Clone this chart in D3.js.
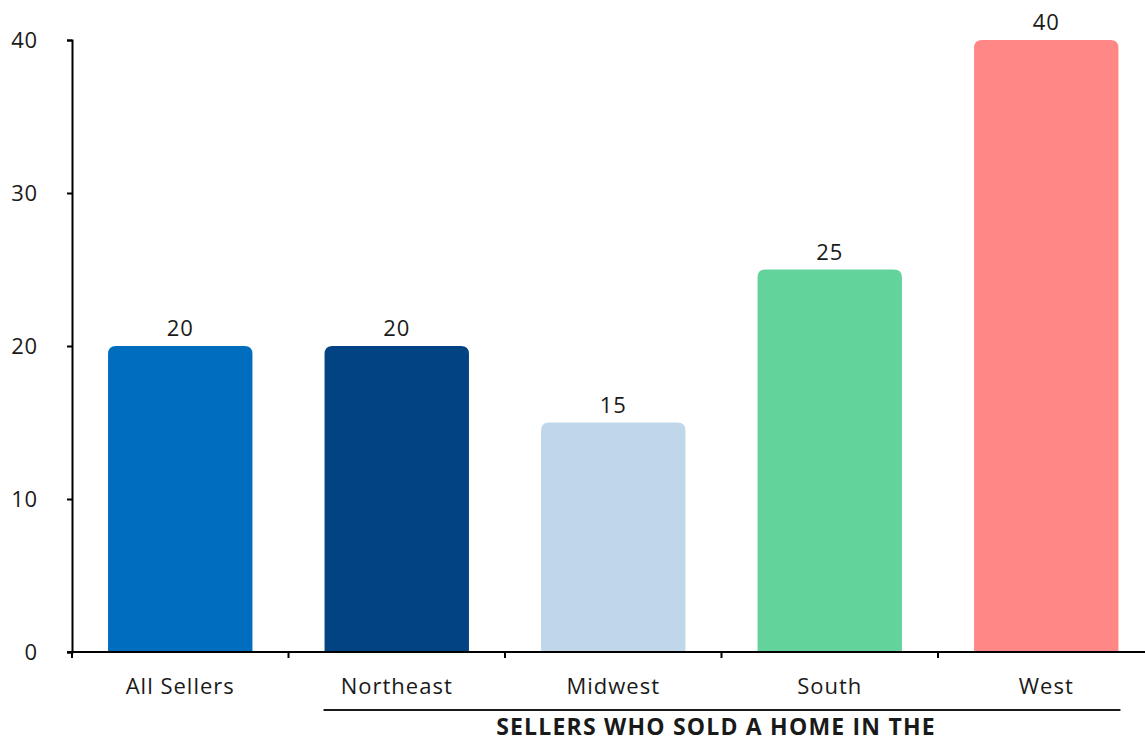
<!DOCTYPE html>
<html><head><meta charset="utf-8">
<script src="https://cdn.jsdelivr.net/npm/d3@7"></script>
<style>
body{margin:0;background:#fff;}
text{font-family:"Open Sans","Noto Sans",sans-serif;fill:#1a1a1a;}
</style></head>
<body><svg id="c" width="1145" height="742"></svg>
<script>
const categories = ["All Sellers","Northeast","Midwest","South","West"];
const values = [20,20,15,25,40];
const colors = ["#006dbf","#024483","#c0d7ea","#62d39b","#ff8886"];
const yTicks = [0,10,20,30,40];
const groupLabel = "SELLERS WHO SOLD A HOME IN THE";

const svg = d3.select("#c");
const x0 = 72, xEnd = 1154.5, y0 = 652, yTop = 40;
const x = d3.scaleBand().domain(categories).range([x0, xEnd]).paddingInner(0.333).paddingOuter(0.1665);
const y = d3.scaleLinear().domain([0,40]).range([y0, yTop]);

// bars with rounded top
const r = 8;
svg.append("g").selectAll("path").data(categories).join("path")
  .attr("fill",(d,i)=>colors[i])
  .attr("d",(d,i)=>{
    const bx = x(d), bw = x.bandwidth(), by = y(values[i]), bb = y(0);
    return `M${bx},${bb}V${by+r}Q${bx},${by} ${bx+r},${by}H${bx+bw-r}Q${bx+bw},${by} ${bx+bw},${by+r}V${bb}Z`;
  });

// value labels
svg.append("g").selectAll("text").data(categories).join("text")
  .attr("x",d=>x(d)+x.bandwidth()/2)
  .attr("y",(d,i)=>y(values[i])-10)
  .attr("text-anchor","middle")
  .style("font-size","22px").style("letter-spacing","0.8px")
  .text((d,i)=>values[i]);

// y axis
const ya = svg.append("g").attr("transform",`translate(${x0},0)`)
  .call(d3.axisLeft(y).tickValues(yTicks).tickSize(5).tickSizeOuter(5));
ya.select(".domain").attr("stroke","#000").attr("stroke-width",2);
ya.selectAll(".tick line").attr("stroke","#000").attr("stroke-width",2);
ya.selectAll(".tick text").attr("x",-34).attr("dy","0.35em").style("font-size","22px").style("letter-spacing","0.8px").style("font-family","'Open Sans',sans-serif").attr("fill","#1a1a1a");

// x axis: ticks at band boundaries
const step = x.step();
const boundaries = d3.range(categories.length+1).map(i=>x0+i*step);
svg.append("line").attr("x1",x0-5).attr("x2",1145).attr("y1",y0).attr("y2",y0).attr("stroke","#000").attr("stroke-width",2);
svg.append("g").selectAll("line").data(boundaries).join("line")
  .attr("x1",d=>d).attr("x2",d=>d).attr("y1",y0).attr("y2",y0+6)
  .attr("stroke","#000").attr("stroke-width",2);

svg.append("g").selectAll("text").data(categories).join("text")
  .attr("x",d=>x(d)+x.bandwidth()/2)
  .attr("y",694)
  .attr("text-anchor","middle")
  .style("font-size","22px").style("letter-spacing","1px")
  .text(d=>d);

// group bracket
const gx1 = x(categories[1]) - 1, gx2 = x(categories[4]) + x.bandwidth() + 2;
svg.append("line").attr("x1",gx1).attr("x2",gx2).attr("y1",710).attr("y2",710).attr("stroke","#1a1a1a").attr("stroke-width",2);
svg.append("text").attr("x",716).attr("y",735).attr("text-anchor","middle")
  .style("font-size","23px").style("font-weight","bold").style("letter-spacing","1.2px").text(groupLabel);
</script></body></html>
